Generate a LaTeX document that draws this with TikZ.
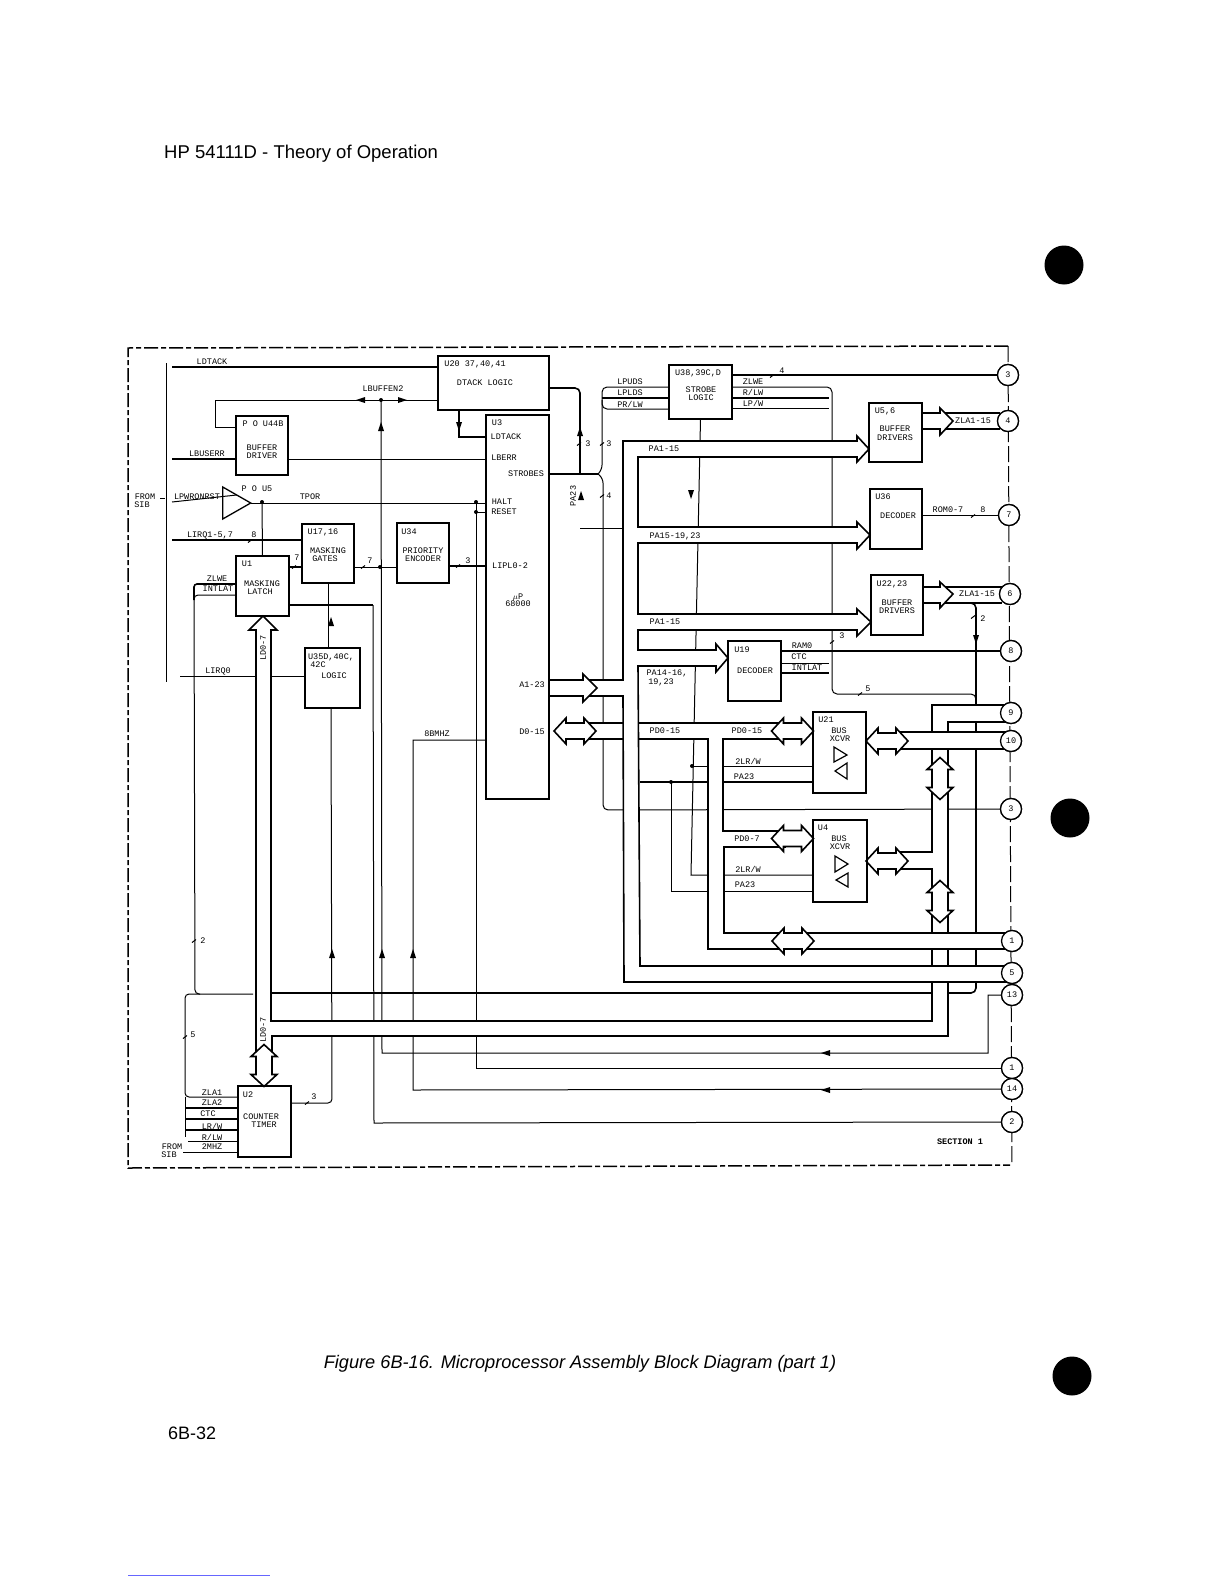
\documentclass[tikz,border=0pt]{standalone}
\usepackage{fontspec}
\setmainfont{Liberation Sans}
\setmonofont{Liberation Mono}
\usetikzlibrary{arrows.meta, positioning, shapes.geometric}

\tikzset{
  blockbox/.style={draw, fill=white, line width=1.5pt, inner sep=0pt, outer sep=0pt},
  portcircle/.style={draw, circle, fill=white, line width=1.3pt, minimum size=21pt, inner sep=0pt},
  siglabel/.style={inner sep=0pt, font=\ttfamily\fontsize{8.5}{8.5}\selectfont},
  wirethin/.style={line width=1pt},
  wirethick/.style={line width=1.6pt},
  buswall/.style={line width=1.6pt, fill=white},
  framedash/.style={line width=1.5pt, dash pattern=on 14pt off 3pt on 5pt off 3pt},
  dblhead/.pic={\draw[buswall] (-21,0) -- (-9,-13) -- (-9,-8) -- (9,-8) -- (9,-13) -- (21,0) -- (9,13) -- (9,8) -- (-9,8) -- (-9,13) -- cycle;},
  tipmark/.pic={\fill (0,-6) -- (3,3) -- (-3,3) -- cycle;},
  wiredot/.pic={\fill (0,0) circle (2pt);},
  slashmark/.pic={\draw[wirethin] (-2,1.5) -- (2,-1.5);}
}

\begin{document}
\begin{tikzpicture}[x=1pt, y=-1pt]
  \useasboundingbox (0,0) rectangle (1224,1584);

  % page text
  \node[font=\fontsize{18.5}{20}\selectfont, anchor=west, inner sep=0pt] (pagehead) at (164,154) {HP 54111D - Theory of Operation};
  \node[font=\itshape\fontsize{18.2}{20}\selectfont, inner sep=0pt] (figcaption) at (580,1364) {Figure 6B-16. Microprocessor Assembly Block Diagram (part 1)};
  \node[font=\fontsize{18}{20}\selectfont, anchor=west, inner sep=0pt] (pagenum) at (168,1433) {6B-32};
  \fill (1064,265) circle (19.5pt);
  \fill (1070,818) circle (19.5pt);
  \fill (1072,1376) circle (19.5pt);
  \draw[blue!60!white, line width=0.8pt] (128,1575) -- (270,1575);

  % frame
  \draw[framedash] (1008,346) -- (128,348) -- (128,1168) -- (1010,1165);
  \draw[wirethin, dash pattern=on 16pt off 4pt] (1008,346) -- (1012,1165);
  \draw[wirethin] (166,363) -- (166,682);
  \draw[wirethin] (160,498) -- (165,498);

  % blocks
  \node[blockbox, minimum width=111, minimum height=54] (u20) at (493.5,383) {};
  \node[blockbox, minimum width=52, minimum height=59] (u44) at (262,445.5) {};
  \node[blockbox, minimum width=52, minimum height=59] (u17) at (328,553.5) {};
  \node[blockbox, minimum width=52, minimum height=60] (u34) at (423,553) {};
  \node[blockbox, minimum width=53, minimum height=60] (u1) at (262.5,586) {};
  \node[blockbox, minimum width=55, minimum height=60] (u35) at (332.5,678) {};
  \node[blockbox, minimum width=63, minimum height=384] (u3) at (517.5,607) {};
  \node[blockbox, minimum width=63, minimum height=54] (u38) at (700.5,392) {};
  \node[blockbox, minimum width=53, minimum height=59] (u56) at (895.5,432.5) {};
  \node[blockbox, minimum width=52, minimum height=60] (u36) at (896,519) {};
  \node[blockbox, minimum width=52, minimum height=60] (u22) at (897,605) {};
  \node[blockbox, minimum width=53, minimum height=60] (u19) at (754.5,671) {};
  \node[blockbox, minimum width=53, minimum height=81] (u21) at (839.5,752.5) {};
  \node[blockbox, minimum width=54, minimum height=82] (u4) at (840,861) {};
  \node[blockbox, minimum width=53, minimum height=71] (u2) at (264.5,1121.5) {};
  \node[draw, fill=white, line width=1.3pt, isosceles triangle, isosceles triangle stretches, minimum width=32, minimum height=28, inner sep=0pt, outer sep=0pt] (u5) at (232,503) {};

  % ports
  \node[portcircle] (pthree) at (1008,375) {};
  \node[portcircle] (pfour) at (1008,421) {};
  \node[portcircle] (pseven) at (1009,515) {};
  \node[portcircle] (psix) at (1010,594) {};
  \node[portcircle] (peight) at (1011,651) {};
  \node[portcircle] (pnine) at (1011,713) {};
  \node[portcircle] (pten) at (1011,741) {};
  \node[portcircle] (pmid) at (1011,809) {};
  \node[portcircle] (plow) at (1012,941) {};
  \node[portcircle] (pfive) at (1012,973) {};
  \node[portcircle] (pthirteen) at (1012,995) {};
  \node[portcircle] (pone) at (1012,1068) {};
  \node[portcircle] (pfourteen) at (1012,1089) {};
  \node[portcircle] (ptwo) at (1012,1122) {};

  % free ends
  \coordinate (ldtackin) at (172,367);
  \coordinate (lbuserrin) at (172,459);
  \coordinate (lpwrin) at (172,502);
  \coordinate (lirqin) at (172,540);
  \coordinate (lirqzero) at (180,676);
  \coordinate (sibclk) at (183,1152);
  \coordinate (bufjoin) at (381,400);
  \coordinate (haltjoin) at (476,502);
  \coordinate (strobejoin) at (598,474);

  % wires on the left
  \draw[wirethick] (ldtackin) -- (ldtackin -| u20.west);
  \draw[wirethin] (u20.west |- bufjoin) -- (215,400) -- (215,427) -- (u44.west |- 0,427);
  \draw[wirethin] (bufjoin) -- (382,1053) -- (988,1053) -- (988,995) -- (pthirteen.west);
  \draw[wirethick] (459,410) -- (459,437) -- (u3.west |- 0,437);
  \draw[wirethick] (lbuserrin) -- (lbuserrin -| u44.west);
  \draw[wirethin] (u44.east |- lbuserrin) -- (u3.west |- lbuserrin);
  \draw[wirethin] (lpwrin) -- (u5.left side);
  \draw[wirethin] (u5.apex) -- (u5.apex -| u3.west);
  \draw[wirethin] (haltjoin) -- (476,1068) -- (pone.west);
  \draw[wirethin] (476,512) -- (u3.west |- 0,512);
  \draw[wirethin] (262,502) -- (u1.north);
  \draw[wirethick] (lirqin) -- (lirqin -| u17.west);
  \draw[wirethick] (u17.west |- 0,567) -- (u1.east |- 0,567);
  \draw[wirethin] (u17.east |- 0,567) -- (u34.west |- 0,567);
  \draw[wirethick] (u34.east |- 0,566) -- (u3.west |- 0,566);
  \draw[wirethick] (u1.east |- 0,605) -- (373,605);
  \draw[wirethin] (373,605) -- (374,1123) -- (ptwo.west);
  \draw[wirethick, rounded corners=3pt] (u1.west |- 0,584) -- (194,584) -- (194,600);
  \draw[wirethin, rounded corners=4pt] (u1.west |- 0,595) -- (194,595) -- (195,994) -- (253,994);
  \draw[wirethin] (u17.south) -- (u35.north -| u17.south);
  \draw[wirethin, rounded corners=4pt] (331,708) -- (332,1103) -- (u2.east |- 0,1103);
  \draw[wirethin] (lirqzero) -- (lirqzero -| u35.west);
  \draw[wirethin] (u3.west |- 0,740) -- (413,740) -- (413,1090) -- (pfourteen.west);

  % lines into the counter
  \draw[wirethin, rounded corners=4pt] (u2.west |- 0,1097) -- (185,1097) -- (185,994) -- (200,994);
  \draw[wirethin] (185,1097) -- (185,1137);
  \foreach \rowy in {1108,1119,1130}
    \draw[wirethick] (186,\rowy) -- (u2.west |- 0,\rowy);
  \draw[wirethin] (188,1141) -- (u2.west |- 0,1141);
  \draw[wirethin] (sibclk) -- (sibclk -| u2.west);

  % strobes and control lines
  \draw[wirethick, rounded corners=5pt] (u20.east |- 0,388) -- (580,388) -- (580,474);
  \draw[wirethick] (u3.east |- 0,474) -- (strobejoin);
  \draw[wirethin, rounded corners=5pt] (strobejoin) -- (602,470) -- (602,387) -- (u38.west |- 0,387);
  \draw[wirethick] (602,398) -- (u38.west |- 0,398);
  \draw[wirethin, rounded corners=5pt] (602,400) -- (602,409) -- (u38.west |- 0,409);
  \draw[wirethin, rounded corners=5pt] (strobejoin) -- (603,478) -- (603,810) -- (pmid.west);
  \draw[wirethin] (580,528) -- (623,528);
  \draw[wirethick] (u38.east |- pthree) -- (pthree.west);
  \draw[wirethin, rounded corners=5pt] (u38.east |- 0,387) -- (832,387) -- (832,694) -- (976,694) -- (976,720);
  \draw[wirethick] (u38.east |- 0,398) -- (829,398);
  \draw[wirethin] (u38.east |- 0,408) -- (829,408);
  \draw[wirethin] (u38.south) -- (691,875) -- (u4.west |- 0,875);
  \draw[wirethin] (692,766) -- (u21.west |- 0,766);
  \draw[wirethick] (640,782) -- (u21.west |- 0,782);
  \draw[wirethin] (671,782) -- (671,891) -- (u4.west |- 0,891);
  \draw[wirethick] (u19.east |- peight) -- (peight.west);
  \draw[wirethin] (u19.east |- 0,663) -- (829,663);
  \draw[wirethick] (u19.east |- 0,673) -- (829,673);
  \draw[wirethin] (u36.east |- pseven) -- (pseven.west);
  \draw[wirethick, rounded corners=5pt] (u22.east |- 0,603) -- (976,603) -- (976,993) -- (272,993);

  % LD0-7 bus
  \draw[buswall] (256,1055) -- (256,630) -- (249,630) -- (263,616) -- (277,630) -- (271,630) -- (271,1021) -- (932,1021) -- (932,869) -- (899,869) -- (899,852) -- (932,852) -- (932,705) -- (1011,705) -- (1011,722) -- (948,722) -- (948,1036) -- (272,1036) -- (272,1055) -- cycle;
  \pic[rotate=90] at (264,1065.5) {dblhead};
  \pic[rotate=90] at (940,778.5) {dblhead};
  \pic[rotate=90] at (940,901.5) {dblhead};
  \pic at (887,861) {dblhead};

  % D0-15 bus
  \draw[buswall] (586,723) -- (785,723) -- (785,739) -- (723,739) -- (723,831) -- (785,831) -- (785,847) -- (724,847) -- (724,933) -- (785,933) -- (785,949) -- (708,949) -- (708,739) -- (586,739) -- cycle;
  \draw[buswall] (805,933) -- (1012,933) -- (1012,949) -- (805,949) -- cycle;
  \draw[buswall] (899,732) -- (1011,732) -- (1011,749) -- (899,749) -- cycle;
  \pic at (575,731) {dblhead};
  \pic at (792.5,731) {dblhead};
  \pic at (792.5,838.5) {dblhead};
  \pic at (793,941) {dblhead};
  \pic at (887,741) {dblhead};

  % A1-23 bus
  \draw[buswall] (586,680) -- (623,680) -- (623,441) -- (857,441) -- (857,436) -- (869,449) -- (857,462) -- (857,457) -- (638,457) -- (638,527) -- (857,527) -- (857,522) -- (870,535) -- (857,549) -- (857,543) -- (638,543) -- (638,614) -- (857,614) -- (857,609) -- (871,622) -- (857,636) -- (857,630) -- (638,630) -- (638,650) -- (716,650) -- (716,644) -- (728,658) -- (716,672) -- (716,666) -- (638,666) -- (640,966) -- (1012,966) -- (1012,982) -- (624,982) -- (623,696) -- (586,696) -- cycle;
  \draw[buswall] (u3.east |- 0,680) -- (583,680) -- (583,674) -- (597,688) -- (583,702) -- (583,696) -- (u3.east |- 0,696);

  % output buses
  \draw[buswall] (u56.east |- 0,413) -- (940,413) -- (940,408) -- (953,421) -- (940,435) -- (940,429) -- (u56.east |- 0,429);
  \draw[wirethick] (945,413) -- (pfour.north west |- 0,413) (945,429) -- (pfour.south west |- 0,429);
  \draw[buswall] (u22.east |- 0,587) -- (940,587) -- (940,582) -- (953,594) -- (940,608) -- (940,603) -- (u22.east |- 0,603);
  \draw[wirethick] (945,587) -- (psix.north west |- 0,587) (945,603) -- (psix.south west |- 0,603);

  % redraw what the buses touch
  \foreach \boxname in {u56,u36,u22,u19,u21,u4,u1,u2,u3} {
    \draw[line width=1.5pt] (\boxname.north west) rectangle (\boxname.south east);
  }
  \foreach \portname/\porttext in {pthree/3,pfour/4,pseven/7,psix/6,peight/8,pnine/9,pten/10,pmid/3,plow/1,pfive/5,pthirteen/13,pone/1,pfourteen/14,ptwo/2} {
    \draw[line width=1.3pt, fill=white] (\portname) circle (10.5pt);
    \node[siglabel] (\portname text) at (\portname) {\porttext};
  }

  % triangles in the transceivers
  \draw[line width=1.2pt] (834,747) -- (847,755) -- (834,762) -- cycle;
  \draw[line width=1.2pt] (847,763) -- (835,771) -- (847,779) -- cycle;
  \draw[line width=1.2pt] (835,856) -- (848,864) -- (835,872) -- cycle;
  \draw[line width=1.2pt] (848,873) -- (836,880) -- (848,887) -- cycle;

  % arrows and dots
  \pic[rotate=90] at (362,400) {tipmark};
  \pic[rotate=-90] at (401,400) {tipmark};
  \pic at (381,428) {tipmark};
  \pic[rotate=180] at (459,425) {tipmark};
  \pic at (331,623) {tipmark};
  \pic at (332,955) {tipmark};
  \pic at (382,955) {tipmark};
  \pic at (413,955) {tipmark};
  \pic at (580,433) {tipmark};
  \pic at (581,497) {tipmark};
  \pic[rotate=180] at (691,493) {tipmark};
  \pic[rotate=180] at (976,638) {tipmark};
  \pic[rotate=90] at (827,1053) {tipmark};
  \pic[rotate=90] at (827,1090) {tipmark};
  \foreach \dotx/\doty in {381/400, 262/502, 476/502, 476/512, 380/567, 692/766, 671/782}
    \pic at (\dotx,\doty) {wiredot};
  \foreach \slashx/\slashy in {250/541, 294/567, 363/567, 458/566, 579/444, 602/444, 602/496, 772/376, 973/516, 973/617, 832/642, 860/694, 194/941, 185/1037, 307/1103}
    \pic at (\slashx,\slashy) {slashmark};

  % labels
  \foreach \lx/\ly/\ltext [count=\labn] in {
    {212/362/LDTACK}, {383/389/LBUFFEN2}, {475/364/U20 37,40,41}, {485/383/DTACK LOGIC},
    {263/424/P O U44B}, {262/448/BUFFER}, {262/456/DRIVER}, {207/454/LBUSERR},
    {197/497/LPWRONRST}, {257/489/P O U5}, {310/497/TPOR}, {145/497/FROM}, {142/505/SIB},
    {210/535/LIRQ1-5,7}, {254/535/8}, {297/558/7}, {323/532/U17,16}, {328/551/MASKING}, {325/559/GATES},
    {370/561/7}, {409/532/U34}, {423/551/PRIORITY}, {423/559/ENCODER}, {468/561/3},
    {217/579/ZLWE}, {218/589/INTLAT}, {247/564/U1}, {262/584/MASKING}, {260/592/LATCH},
    {218/671/LIRQ0}, {331/657/U35D,40C,}, {318/665/42C}, {334/676/LOGIC},
    {497/423/U3}, {506/437/LDTACK}, {504/458/LBERR}, {526/474/STROBES}, {502/502/HALT}, {504/512/RESET},
    {510/566/LIPL0-2}, {518/597/$\mu$P}, {518/604/68000}, {532/685/A1-23}, {532/732/D0-15}, {437/734/8BMHZ},
    {203/941/2}, {193/1035/5}, {212/1093/ZLA1}, {212/1103/ZLA2}, {208/1114/CTC}, {212/1126/{LR/W}},
    {212/1137/{R/LW}}, {212/1147/2MHZ}, {172/1147/FROM}, {169/1155/SIB}, {248/1095/U2}, {261/1117/COUNTER},
    {264/1125/TIMER}, {314/1097/3}, {588/444/3}, {609/444/3}, {609/496/4},
    {630/382/LPUDS}, {630/393/LPLDS}, {630/404/{PR/LW}}, {698/373/U38,39C,D}, {701/390/STROBE}, {701/398/LOGIC},
    {753/382/ZLWE}, {753/392/{R/LW}}, {753/403/{LP/W}}, {782/371/4}, {885/411/U5,6}, {895/429/BUFFER}, {895/438/DRIVERS},
    {973/421/ZLA1-15}, {883/497/U36}, {898/516/DECODER}, {948/510/ROM0-7}, {983/510/8},
    {892/584/U22,23}, {897/603/BUFFER}, {897/611/DRIVERS}, {977/594/ZLA1-15}, {983/619/2},
    {664/449/PA1-15}, {675/536/PA15-19,23}, {665/622/PA1-15}, {667/673/PA14-16,}, {661/682/19,23},
    {742/650/U19}, {755/671/DECODER}, {802/646/RAM0}, {799/657/CTC}, {807/668/INTLAT}, {842/636/3}, {868/689/5},
    {665/731/PD0-15}, {747/731/PD0-15}, {748/761/{2LR/W}}, {744/777/PA23}, {747/839/PD0-7}, {748/869/{2LR/W}}, {745/885/PA23},
    {826/720/U21}, {839/731/BUS}, {840/739/XCVR}, {823/828/U4}, {839/839/BUS}, {840/847/XCVR}} {
    \node[siglabel] (lab\labn) at (\lx,\ly) {\ltext};
  }
  \node[siglabel, rotate=90] (ldupper) at (263,648) {LD0-7};
  \node[siglabel, rotate=90] (ldlower) at (263,1030) {LD0-7};
  \node[siglabel, rotate=90] (pasignal) at (573,496) {PA23};
  \node[siglabel, font=\ttfamily\bfseries\fontsize{8.5}{9}\selectfont] (sectiontag) at (960,1142) {SECTION 1};
\end{tikzpicture}
\end{document}
